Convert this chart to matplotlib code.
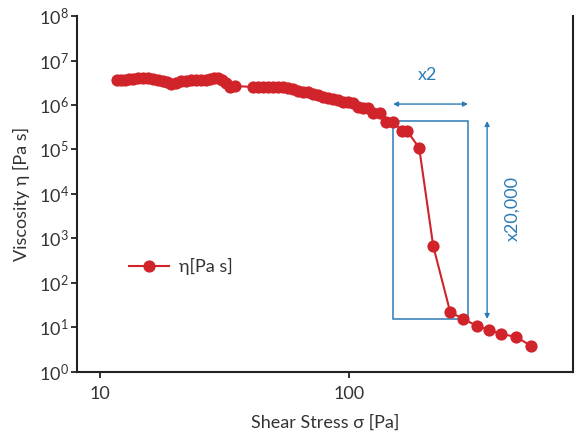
import math
import matplotlib
matplotlib.use("Agg")
import matplotlib.pyplot as plt
from matplotlib.ticker import FixedLocator, FuncFormatter, NullLocator
from matplotlib.patches import Rectangle

plt.rcParams['font.family'] = ['Lato', 'DejaVu Sans']
plt.rcParams['mathtext.fontset'] = 'custom'
plt.rcParams['mathtext.rm'] = 'Lato'
plt.rcParams['mathtext.it'] = 'Lato:italic'

# data
shear_stress = [11.70, 12.14, 12.60, 13.07, 13.57, 14.21, 14.88, 15.58, 16.32, 17.10,
                17.91, 18.58, 19.28, 20.19, 21.14, 22.14, 23.20, 24.29, 25.44, 26.65,
                27.65, 28.70, 29.78, 30.90, 32.06, 33.27, 34.84,
                41.16, 43.10, 45.13, 47.27, 49.50, 51.85, 54.29, 56.86, 59.55, 62.37,
                65.32, 68.41, 71.66, 75.05, 78.60, 82.33, 86.22, 90.31, 94.6, 99.1,
                103.8, 108.7, 113.8, 119.2, 124.9, 133.2, 140.8, 150.2, 163.3, 171.0,
                191.1, 217.5, 254.4, 287.0, 326.7, 365.0, 407.7, 468.5, 538.2]
viscosity = [3.65e6, 3.65e6, 3.65e6, 3.84e6, 3.84e6, 4.04e6, 4.04e6, 4.04e6, 3.84e6, 3.65e6,
             3.46e6, 3.29e6, 2.96e6, 3.12e6, 3.46e6, 3.46e6, 3.65e6, 3.65e6, 3.65e6, 3.65e6,
             3.84e6, 4.04e6, 4.04e6, 3.65e6, 3.12e6, 2.54e6, 2.67e6,
             2.54e6, 2.54e6, 2.54e6, 2.54e6, 2.54e6, 2.54e6, 2.54e6, 2.41e6, 2.29e6, 2.06e6,
             1.96e6, 1.96e6, 1.77e6, 1.68e6, 1.51e6, 1.44e6, 1.36e6, 1.30e6, 1.17e6, 1.17e6,
             1.11e6, 9.02e5, 8.57e5, 8.57e5, 6.61e5, 6.61e5, 4.15e5, 4.15e5, 2.60e5, 2.60e5,
             1.08e5, 678, 22.3, 15.5, 10.8, 8.79, 7.14, 6.12, 3.84]

box_x = [150, 300]
box_y = [15.5, 4.37e5]
x_tick_values = [10, 100]
x_tick_labels = ['10', '100']
y_tick_exponents = [0, 1, 2, 3, 4, 5, 6, 7, 8]

red = '#d0232a'
blue = '#2b7bb5'
dark = '#333333'
fs = 13

fig = plt.figure(figsize=(5.75, 4.33), dpi=100)
ax = fig.add_axes([0.134, 0.141, 0.863, 0.822])

ax.plot(shear_stress, viscosity, color=red, lw=1.5, marker='o', markersize=8.8,
        markeredgewidth=0, label='η[Pa s]')

ax.set_xscale('log')
ax.set_yscale('log')
ax.set_xlim(8.08, 794)
ax.set_ylim(1, 1e8)

ax.xaxis.set_major_locator(FixedLocator(x_tick_values))
ax.xaxis.set_major_formatter(FuncFormatter(
    lambda v, p: x_tick_labels[x_tick_values.index(v)] if v in x_tick_values else ''))
ax.xaxis.set_minor_locator(NullLocator())
ax.yaxis.set_major_locator(FixedLocator([10.0 ** e for e in y_tick_exponents]))
ax.yaxis.set_major_formatter(FuncFormatter(lambda v, p: r'10$^{%d}$' % round(math.log10(v))))
ax.yaxis.set_minor_locator(NullLocator())

for s in ['left', 'bottom', 'right']:
    ax.spines[s].set_color('#222222')
    ax.spines[s].set_linewidth(1.5)
ax.spines['top'].set_visible(False)
ax.tick_params(axis='both', direction='out', length=4, width=1.3, color='#222222',
               labelsize=fs, labelcolor=dark)
ax.tick_params(axis='y', pad=2)
ax.tick_params(axis='x', pad=6)

ax.set_xlabel('Shear Stress σ [Pa]', fontsize=fs, color=dark, labelpad=9)
ax.set_ylabel('Viscosity η [Pa s]', fontsize=fs, color=dark, labelpad=6)

# annotation box and arrows
ax.add_patch(Rectangle((box_x[0], box_y[0]), box_x[1] - box_x[0], box_y[1] - box_y[0],
                       fill=False, edgecolor=blue, lw=1.1, zorder=1))
ax.annotate('', xy=(box_x[0], 1.05e6), xytext=(box_x[1], 1.05e6),
            arrowprops=dict(arrowstyle='<|-|>', color=blue, lw=1.0,
                            mutation_scale=7, shrinkA=0, shrinkB=0))
ax.annotate('', xy=(358, box_y[1]), xytext=(358, box_y[0]),
            arrowprops=dict(arrowstyle='<|-|>', color=blue, lw=1.0,
                            mutation_scale=7, shrinkA=0, shrinkB=0))
ax.text(207, 4.7e6, 'x2', color=blue, fontsize=fs, ha='center', va='center')
ax.text(452, 4840, 'x20,000', color=blue, fontsize=fs, ha='center', va='center',
        rotation=90)

leg = ax.legend(loc='center left', bbox_to_anchor=(0.09, 0.295), frameon=False,
                fontsize=fs, handlelength=2.2, handletextpad=0.6, borderaxespad=0)
for t in leg.get_texts():
    t.set_color(dark)

fig.savefig('out.png', dpi=100)
